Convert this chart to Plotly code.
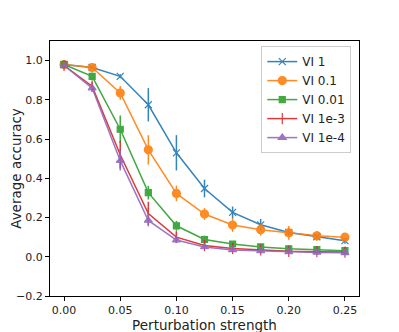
import plotly.graph_objects as go

x = [0.0, 0.025, 0.05, 0.075, 0.1, 0.125, 0.15, 0.175, 0.2, 0.225, 0.25]

names = ["VI 1", "VI 0.1", "VI 0.01", "VI 1e-3", "VI 1e-4"]
colors = ["#1f77b4", "#ff7f0e", "#2ca02c", "#d62728", "#9467bd"]
symbols = ["x-thin-open", "circle", "square", "line-ns-open", "triangle-up"]
sizes = [7, 8, 6, 8, 7]

vi_1 = [0.98, 0.965, 0.92, 0.775, 0.53, 0.348, 0.226, 0.163, 0.124, 0.102, 0.082]
vi_1_err = [0.01, 0.005, 0.01, 0.085, 0.09, 0.045, 0.03, 0.03, 0.02, 0.015, 0.015]
vi_01 = [0.98, 0.965, 0.835, 0.545, 0.323, 0.218, 0.162, 0.138, 0.122, 0.107, 0.10]
vi_01_err = [0.01, 0.01, 0.035, 0.075, 0.04, 0.03, 0.035, 0.03, 0.035, 0.025, 0.02]
vi_001 = [0.98, 0.92, 0.65, 0.327, 0.158, 0.088, 0.065, 0.05, 0.041, 0.036, 0.031]
vi_001_err = [0.01, 0.02, 0.07, 0.035, 0.025, 0.02, 0.015, 0.015, 0.012, 0.012, 0.012]
vi_1e3 = [0.975, 0.87, 0.52, 0.22, 0.10, 0.057, 0.042, 0.035, 0.028, 0.026, 0.024]
vi_1e3_err = [0.01, 0.02, 0.07, 0.06, 0.03, 0.015, 0.012, 0.01, 0.01, 0.01, 0.01]
vi_1e4 = [0.975, 0.86, 0.49, 0.185, 0.085, 0.05, 0.035, 0.03, 0.025, 0.022, 0.02]
vi_1e4_err = [0.01, 0.02, 0.05, 0.03, 0.015, 0.012, 0.01, 0.01, 0.01, 0.01, 0.01]

series = [vi_1, vi_01, vi_001, vi_1e3, vi_1e4]
errors = [vi_1_err, vi_01_err, vi_001_err, vi_1e3_err, vi_1e4_err]

fig = go.Figure()
for name, y, e, c, s, sz in zip(names, series, errors, colors, symbols, sizes):
    fig.add_trace(
        go.Scatter(
            x=x,
            y=y,
            error_y=dict(type="data", array=e, color=c, thickness=1.5, width=0),
            mode="lines+markers",
            name=name,
            line=dict(color=c, width=1.5),
            marker=dict(symbol=s, size=sz, color=c, line=dict(color=c, width=1.2)),
            opacity=0.9,
        )
    )

axis_style = dict(
    showline=True,
    linecolor="black",
    linewidth=1,
    mirror=True,
    ticks="outside",
    ticklen=4,
    tickcolor="black",
    showgrid=False,
    zeroline=False,
    automargin=False,
    tickfont=dict(size=11, color="#222"),
)

fig.update_xaxes(
    range=[-0.0125, 0.2625],
    tickvals=[0.0, 0.05, 0.1, 0.15, 0.2, 0.25],
    tickformat=".2f",
    title=dict(text="Perturbation strength", font=dict(size=13.5, color="#222"), standoff=0),
    **axis_style,
)
fig.update_yaxes(
    range=[-0.2, 1.1],
    tickvals=[-0.2, 0.0, 0.2, 0.4, 0.6, 0.8, 1.0],
    tickformat=".1f",
    title=dict(text="Average accuracy", font=dict(size=13.5, color="#222"), standoff=13),
    **axis_style,
)

# the page sits ~8px in from the window edge, so margins are shifted to match
fig.update_layout(
    width=399,
    height=332,
    template="plotly_white",
    plot_bgcolor="white",
    paper_bgcolor="white",
    font=dict(family="DejaVu Sans"),
    margin=dict(l=42, r=48, t=33, b=44),
    showlegend=True,
    legend=dict(
        x=0.975,
        y=0.98,
        xanchor="right",
        yanchor="top",
        bgcolor="rgba(255,255,255,0.8)",
        bordercolor="#ccc",
        borderwidth=1,
        font=dict(size=12, color="#222"),
        tracegroupgap=0,
        itemwidth=30,
    ),
)

fig.write_html("out.html")
